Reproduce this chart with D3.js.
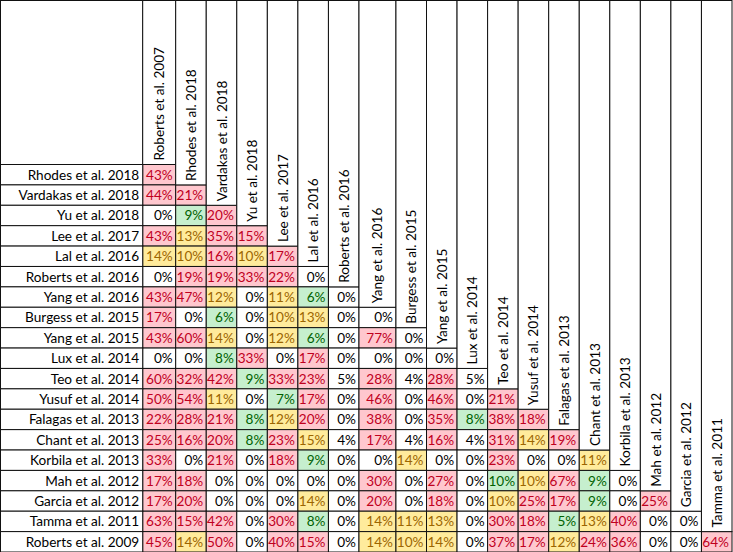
<!DOCTYPE html>
<html><head><meta charset="utf-8">
<script src="https://cdn.jsdelivr.net/npm/d3@7"></script>
<style>html,body{margin:0;padding:0;background:#fff;}svg{display:block;}</style>
</head><body>
<script>
const rowNames = ["Rhodes et al. 2018","Vardakas et al. 2018","Yu et al. 2018","Lee et al. 2017","Lal et al. 2016","Roberts et al. 2016","Yang et al. 2016","Burgess et al. 2015","Yang et al. 2015","Lux et al. 2014","Teo et al. 2014","Yusuf et al. 2014","Falagas et al. 2013","Chant et al. 2013","Korbila et al. 2013","Mah et al. 2012","Garcia et al. 2012","Tamma et al. 2011","Roberts et al. 2009"];
const colNames = ["Roberts et al. 2007","Rhodes et al. 2018","Vardakas et al. 2018","Yu et al. 2018","Lee et al. 2017","Lal et al. 2016","Roberts et al. 2016","Yang et al. 2016","Burgess et al. 2015","Yang et al. 2015","Lux et al. 2014","Teo et al. 2014","Yusuf et al. 2014","Falagas et al. 2013","Chant et al. 2013","Korbila et al. 2013","Mah et al. 2012","Garcia et al. 2012","Tamma et al. 2011"];
const values = [
 [43],
 [44,21],
 [0,9,20],
 [43,13,35,15],
 [14,10,16,10,17],
 [0,19,19,33,22,0],
 [43,47,12,0,11,6,0],
 [17,0,6,0,10,13,0,0],
 [43,60,14,0,12,6,0,77,0],
 [0,0,8,33,0,17,0,0,0,0],
 [60,32,42,9,33,23,5,28,4,28,5],
 [50,54,11,0,7,17,0,46,0,46,0,21],
 [22,28,21,8,12,20,0,38,0,35,8,38,18],
 [25,16,20,8,23,15,4,17,4,16,4,31,14,19],
 [33,0,21,0,18,9,0,0,14,0,0,23,0,0,11],
 [17,18,0,0,0,0,0,30,0,27,0,10,10,67,9,0],
 [17,20,0,0,0,14,0,20,0,18,0,10,25,17,9,0,25],
 [63,15,42,0,30,8,0,14,11,13,0,30,18,5,13,40,0,0],
 [45,14,50,0,40,15,0,14,10,14,0,37,17,12,24,36,0,0,64]
];
// highlight class per cell: r = red, y = yellow, g = green, w = none
const grades = ["r","rr","wgr","ryrr","yyryr","wrrrrw","rrywygw","rwgwyyww","rrywygwrw","wwgrwrwwww","rrrgrrwrwrw","rrywgrwrwrwr","rrrgyrwrwrgrr","rrrgrywrwrwryr","rwrwrgwwywwrwwy","rrwwwwwrwrwgyrgw","rrwwwywrwrwyrrgwr","rrrwrgwyyywrrgyrww","ryrwrrwyyywrryrrwwr"];

// ---- layout ----
const W = 733, H = 552;
const labelRight = 142.7, tableRight = 732, headerBottom = 164.5;
const colUnits = colNames.map((d,i) => i === 0 ? 1.08 : (i === 7 ? 1.21 : 1));
const cum = [0]; colUnits.forEach(u => cum.push(cum[cum.length-1] + u));
const xs = d3.scaleLinear().domain([0, cum[cum.length-1]]).range([labelRight, tableRight]);
const ys = d3.scaleBand().domain(d3.range(rowNames.length)).range([headerBottom, H]);
const colX = j => xs(cum[j]);
const colW = j => xs(cum[j+1]) - xs(cum[j]);
const fill = {r:"#FFC7CE", y:"#FFEB9C", g:"#C6EFCE", w:"#ffffff"};
const ink = {r:"#C0001E", y:"#9C6500", g:"#006100", w:"#000000"};
const font = "Lato, 'Open Sans', sans-serif";
const fs = 13.6;
const stroke = "#111";

const svg = d3.select("body").append("svg").attr("width", W).attr("height", H);
const g = svg.append("g");

// cells data
const cells = [];
values.forEach((row, i) => row.forEach((v, j) => cells.push({i, j, v, grade: grades[i][j]})));

// data cells
g.selectAll("rect.cell").data(cells).join("rect").attr("class","cell")
  .attr("x", d => colX(d.j)).attr("y", d => ys(d.i))
  .attr("width", d => colW(d.j)).attr("height", ys.bandwidth())
  .attr("fill", d => fill[d.grade]).attr("stroke", stroke).attr("stroke-width", 1);

g.selectAll("text.val").data(cells).join("text").attr("class","val")
  .attr("x", d => colX(d.j) + colW(d.j) - 3)
  .attr("y", d => ys(d.i) + ys.bandwidth()/2)
  .attr("dy", "0.36em").attr("text-anchor","end")
  .attr("font-family", font).attr("font-size", fs)
  .attr("fill", d => ink[d.grade])
  .text(d => d.v + "%");

// row label cells
g.append("rect").attr("x", 0.5).attr("y", 0.5).attr("width", labelRight - 0.5).attr("height", headerBottom - 0.5)
  .attr("fill","#fff").attr("stroke", stroke);
g.selectAll("rect.rl").data(rowNames).join("rect").attr("class","rl")
  .attr("x", 0.5).attr("y", (d,i) => ys(i)).attr("width", labelRight - 0.5).attr("height", ys.bandwidth())
  .attr("fill","#fff").attr("stroke", stroke);
g.selectAll("text.rl").data(rowNames).join("text").attr("class","rl")
  .attr("x", labelRight - 3.5).attr("y", (d,i) => ys(i) + ys.bandwidth()/2)
  .attr("dy","0.36em").attr("text-anchor","end")
  .attr("font-family", font).attr("font-size", fs).attr("fill","#000")
  .text(d => d);

// column header cells
g.selectAll("rect.ch").data(colNames).join("rect").attr("class","ch")
  .attr("x", (d,j) => colX(j)).attr("y", 0.5)
  .attr("width", (d,j) => colW(j)).attr("height", (d,j) => ys(j) - 0.5)
  .attr("fill","#fff").attr("stroke", stroke);
g.selectAll("text.ch").data(colNames).join("text").attr("class","ch")
  .attr("transform", (d,j) => `translate(${colX(j) + colW(j)/2 + 5},${ys(j) - 4}) rotate(-90)`)
  .attr("text-anchor","start")
  .attr("font-family", font).attr("font-size", fs).attr("fill","#000")
  .text(d => d);
</script>
</body></html>
